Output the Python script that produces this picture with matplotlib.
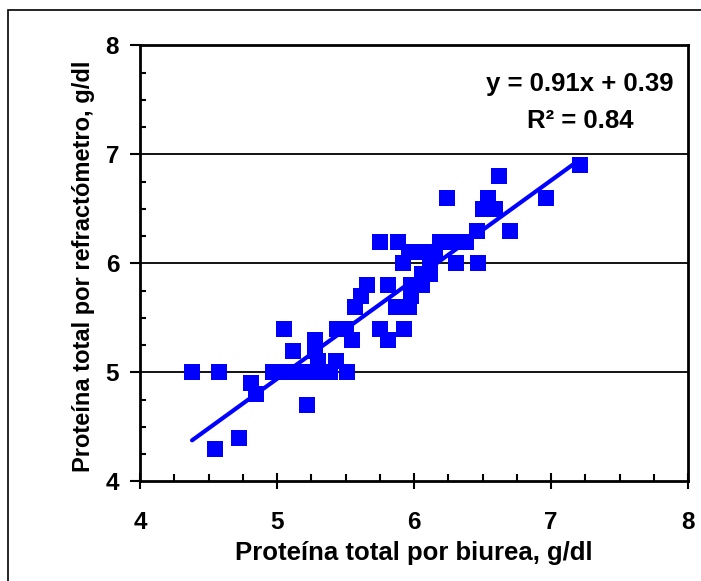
import matplotlib
matplotlib.use('Agg')
import matplotlib.pyplot as plt
from matplotlib.patches import Rectangle
from matplotlib.ticker import MultipleLocator

plt.rcParams['font.family'] = ['Liberation Sans', 'DejaVu Sans']
plt.rcParams['font.weight'] = 'bold'

# Proteina total: biurea (x) vs refractometro (y), g/dl
biurea = [4.38, 4.58, 4.55, 4.72, 4.81, 4.85, 4.97, 5.05, 5.07, 5.12,
          5.17, 5.22, 5.28, 5.28, 5.28, 5.30, 5.39, 5.43, 5.44, 5.50,
          5.51, 5.55, 5.57, 5.61, 5.66, 5.75, 5.75, 5.81, 5.81, 5.88,
          5.87, 5.92, 5.93, 5.96, 5.98, 5.98, 5.96, 6.01, 6.06, 6.06,
          6.07, 6.12, 6.12, 6.15, 6.19, 6.24, 6.26, 6.31, 6.38, 6.46,
          6.47, 6.50, 6.54, 6.59, 6.62, 6.70, 6.96, 7.21]
refractometro = [5.0, 5.0, 4.3, 4.4, 4.9, 4.8, 5.0, 5.4, 5.0, 5.2,
                 5.0, 4.7, 5.0, 5.3, 5.2, 5.1, 5.0, 5.1, 5.4, 5.4,
                 5.0, 5.3, 5.6, 5.7, 5.8, 6.2, 5.4, 5.8, 5.3, 6.2,
                 5.6, 6.0, 5.4, 5.6, 5.8, 5.7, 6.1, 6.1, 5.8, 5.9,
                 6.1, 5.9, 6.0, 6.1, 6.2, 6.6, 6.2, 6.0, 6.2, 6.3,
                 6.0, 6.5, 6.6, 6.5, 6.8, 6.3, 6.6, 6.9]

# regression line as printed on the chart
slope = 0.91
intercept = 0.39
r2 = 0.84

fig = plt.figure(figsize=(7.01, 5.81), dpi=100)
ax = fig.add_axes([140/701, 1 - 481.3/581, 548/701, 436/581])

# horizontal gridlines at the major y ticks
for yv in [5, 6, 7]:
    ax.axhline(yv, color='black', linewidth=1.3, zorder=1)

ax.plot(biurea, refractometro, linestyle='none', marker='s', markersize=11,
        color='#0000FF', markeredgewidth=0, zorder=3)

x_fit = [min(biurea), max(biurea)]
y_fit = [slope * xv + intercept for xv in x_fit]
ax.plot(x_fit, y_fit, color='#0000FF', linewidth=3, solid_capstyle='round', zorder=4)

ax.set_xlim(4, 8)
ax.set_ylim(4, 8)
ax.xaxis.set_major_locator(MultipleLocator(1))
ax.yaxis.set_major_locator(MultipleLocator(1))
ax.xaxis.set_minor_locator(MultipleLocator(0.25))
ax.yaxis.set_minor_locator(MultipleLocator(0.25))

ax.tick_params(axis='x', which='major', direction='inout', length=11, width=1.5,
               pad=16, labelsize=17.5)
ax.tick_params(axis='x', which='minor', direction='in', length=5, width=1.5)
ax.tick_params(axis='y', which='major', direction='out', length=7, width=1.5,
               pad=8, labelsize=17.5)
ax.tick_params(axis='y', which='minor', direction='in', length=4, width=1.5)
for lab in ax.get_xticklabels() + ax.get_yticklabels():
    lab.set_fontweight('bold')

for sp in ax.spines.values():
    sp.set_linewidth(2)

ax.set_xlabel('Proteína total por biurea, g/dl', fontsize=18.5, fontweight='bold')
ax.set_ylabel('Proteína total por refractómetro, g/dl', fontsize=17, fontweight='bold')
ax.xaxis.set_label_coords(0.5, -0.137)
ax.yaxis.set_label_coords(-0.082, 0.494)

# equation of the fitted line
ax.text(7.21, 7.58, 'y = %.2fx + %.2f' % (slope, intercept), ha='center',
        va='baseline', fontsize=18.5, fontweight='bold')
ax.text(7.21, 7.244, 'R² = %.2f' % r2, ha='center', va='baseline',
        fontsize=18.5, fontweight='bold')

# outer border of the chart area
fig.patches.append(Rectangle((8/701, -0.01), 1.0, 1 - 10/581 + 0.01,
                             transform=fig.transFigure, fill=False,
                             edgecolor='black', linewidth=1.2))

plt.savefig('out.png', dpi=100)
